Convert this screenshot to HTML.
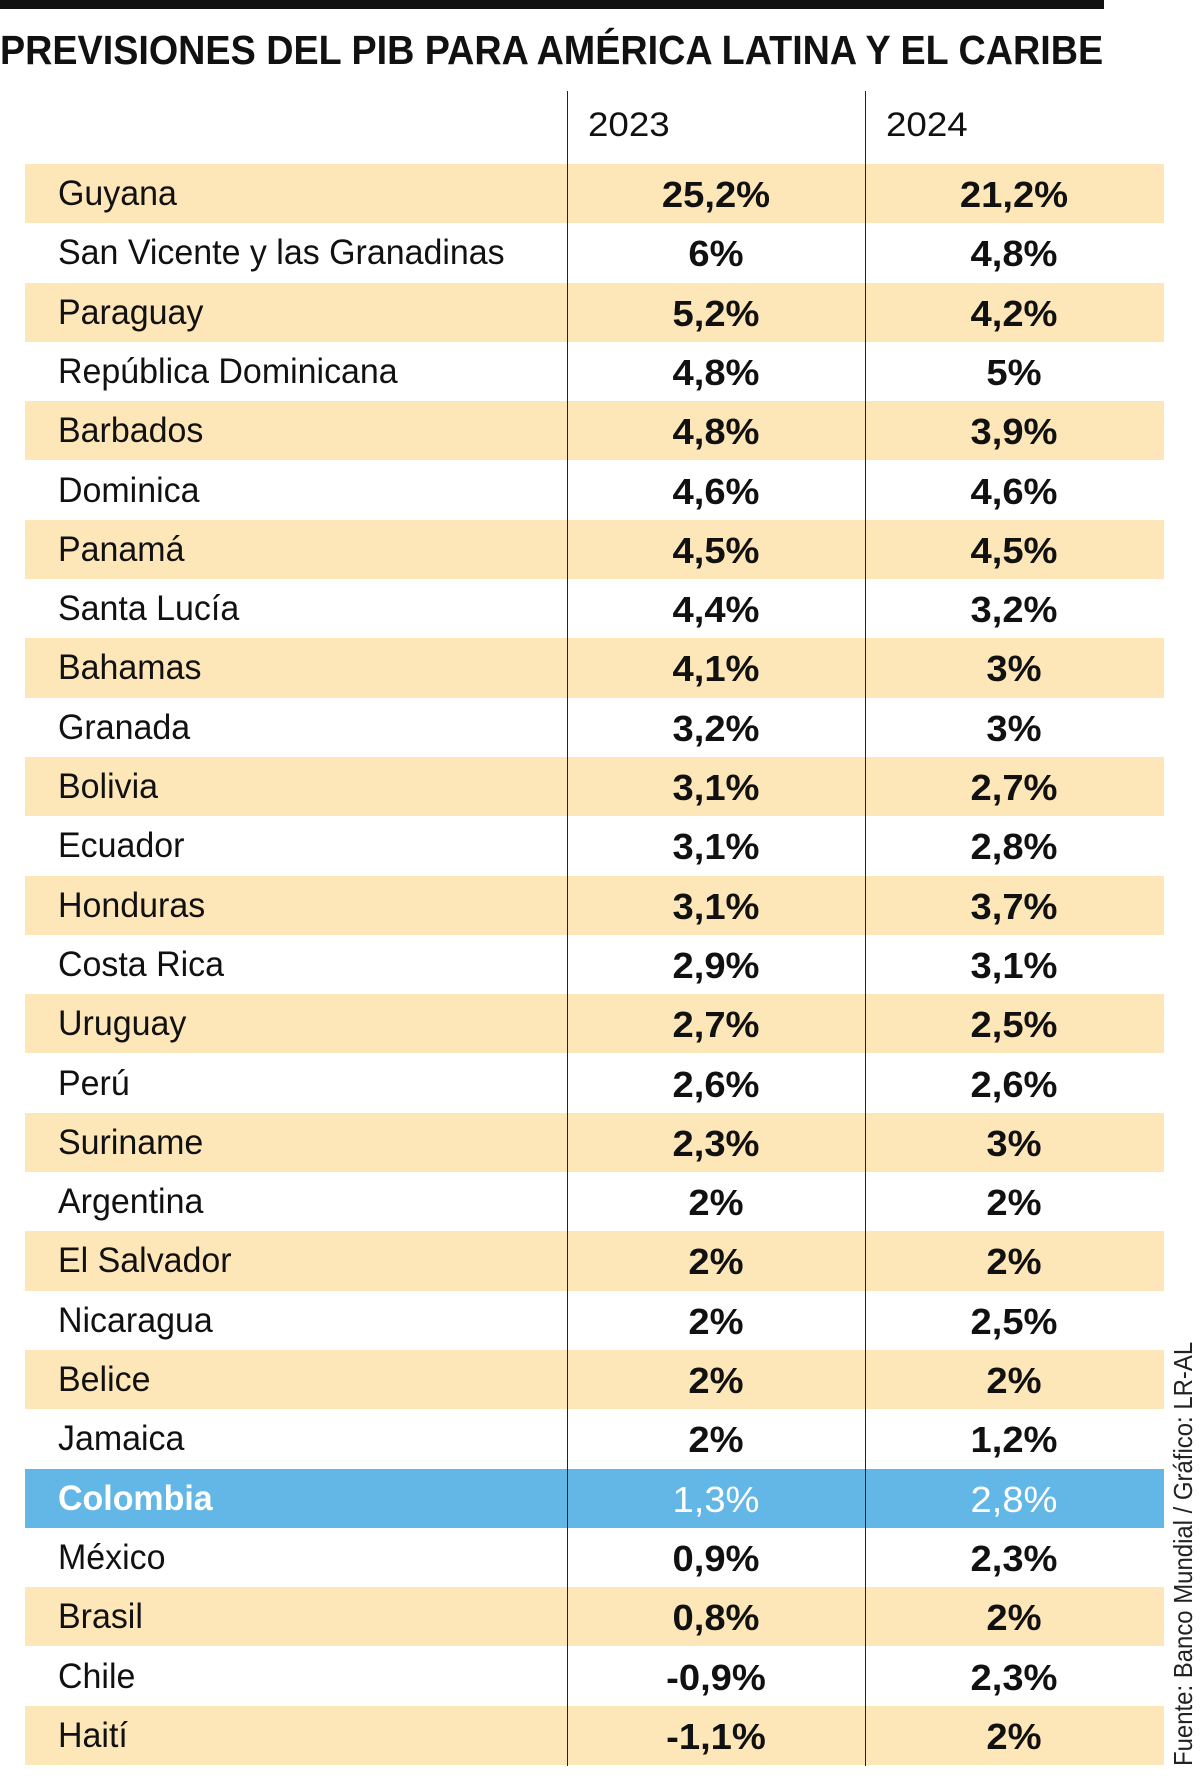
<!DOCTYPE html>
<html><head><meta charset="utf-8">
<style>
body{margin:0;width:1200px;height:1776px;background:#fff;position:relative;overflow:hidden;font-family:"Liberation Sans","DejaVu Sans",sans-serif;color:#111}
.bar{position:absolute;left:0;top:0;width:1104px;height:9px;background:#111}
.title{position:absolute;left:0;top:27px;font-weight:bold;font-size:41px;white-space:nowrap;transform-origin:0 0;transform:scaleX(0.92)}
.vl{position:absolute;top:91px;width:1px;height:1675px;background:#222}
.hd{position:absolute;top:106px;font-size:34px;transform-origin:0 0;transform:scaleX(1.08)}
.row{position:absolute;left:25px;width:1139px;height:59.3px}
.b{background:#fde6b8}
.c{background:#63b7e6}
.n{position:absolute;left:33px;top:10px;font-size:35px;white-space:nowrap;transform-origin:0 0;transform:scaleX(0.97)}
.v{position:absolute;top:10px;font-size:36px;font-weight:bold;width:200px;text-align:center;transform:scaleX(1.06)}
.v1{left:591px}.v2{left:889px}
.c .n,.c .v{color:#fff}
.src{position:absolute;left:1168px;top:1766px;font-size:26px;color:#222;white-space:nowrap;transform-origin:0 0;transform:rotate(-90deg) scaleX(0.92)}
</style></head><body>
<div class="bar"></div>
<div class="title">PREVISIONES DEL PIB PARA AMÉRICA LATINA Y EL CARIBE</div>
<div class="hd" style="left:588px">2023</div>
<div class="hd" style="left:886px">2024</div>
<div class="row b" style="top:164px"><span class="n">Guyana</span><span class="v v1">25,2%</span><span class="v v2">21,2%</span></div>
<div class="row" style="top:223.3px"><span class="n">San Vicente y las Granadinas</span><span class="v v1">6%</span><span class="v v2">4,8%</span></div>
<div class="row b" style="top:282.6px"><span class="n">Paraguay</span><span class="v v1">5,2%</span><span class="v v2">4,2%</span></div>
<div class="row" style="top:341.9px"><span class="n">República Dominicana</span><span class="v v1">4,8%</span><span class="v v2">5%</span></div>
<div class="row b" style="top:401.2px"><span class="n">Barbados</span><span class="v v1">4,8%</span><span class="v v2">3,9%</span></div>
<div class="row" style="top:460.5px"><span class="n">Dominica</span><span class="v v1">4,6%</span><span class="v v2">4,6%</span></div>
<div class="row b" style="top:519.8px"><span class="n">Panamá</span><span class="v v1">4,5%</span><span class="v v2">4,5%</span></div>
<div class="row" style="top:579.1px"><span class="n">Santa Lucía</span><span class="v v1">4,4%</span><span class="v v2">3,2%</span></div>
<div class="row b" style="top:638.4px"><span class="n">Bahamas</span><span class="v v1">4,1%</span><span class="v v2">3%</span></div>
<div class="row" style="top:697.7px"><span class="n">Granada</span><span class="v v1">3,2%</span><span class="v v2">3%</span></div>
<div class="row b" style="top:757px"><span class="n">Bolivia</span><span class="v v1">3,1%</span><span class="v v2">2,7%</span></div>
<div class="row" style="top:816.3px"><span class="n">Ecuador</span><span class="v v1">3,1%</span><span class="v v2">2,8%</span></div>
<div class="row b" style="top:875.6px"><span class="n">Honduras</span><span class="v v1">3,1%</span><span class="v v2">3,7%</span></div>
<div class="row" style="top:934.9px"><span class="n">Costa Rica</span><span class="v v1">2,9%</span><span class="v v2">3,1%</span></div>
<div class="row b" style="top:994.2px"><span class="n">Uruguay</span><span class="v v1">2,7%</span><span class="v v2">2,5%</span></div>
<div class="row" style="top:1053.5px"><span class="n">Perú</span><span class="v v1">2,6%</span><span class="v v2">2,6%</span></div>
<div class="row b" style="top:1112.8px"><span class="n">Suriname</span><span class="v v1">2,3%</span><span class="v v2">3%</span></div>
<div class="row" style="top:1172.1px"><span class="n">Argentina</span><span class="v v1">2%</span><span class="v v2">2%</span></div>
<div class="row b" style="top:1231.4px"><span class="n">El Salvador</span><span class="v v1">2%</span><span class="v v2">2%</span></div>
<div class="row" style="top:1290.7px"><span class="n">Nicaragua</span><span class="v v1">2%</span><span class="v v2">2,5%</span></div>
<div class="row b" style="top:1350px"><span class="n">Belice</span><span class="v v1">2%</span><span class="v v2">2%</span></div>
<div class="row" style="top:1409.3px"><span class="n">Jamaica</span><span class="v v1">2%</span><span class="v v2">1,2%</span></div>
<div class="row c" style="top:1468.6px"><span class="n" style="font-weight:bold">Colombia</span><span class="v v1" style="font-weight:normal">1,3%</span><span class="v v2" style="font-weight:normal">2,8%</span></div>
<div class="row" style="top:1527.9px"><span class="n">México</span><span class="v v1">0,9%</span><span class="v v2">2,3%</span></div>
<div class="row b" style="top:1587.2px"><span class="n">Brasil</span><span class="v v1">0,8%</span><span class="v v2">2%</span></div>
<div class="row" style="top:1646.5px"><span class="n">Chile</span><span class="v v1">-0,9%</span><span class="v v2">2,3%</span></div>
<div class="row b" style="top:1705.8px"><span class="n">Haití</span><span class="v v1">-1,1%</span><span class="v v2">2%</span></div>
<div class="vl" style="left:567px"></div>
<div class="vl" style="left:865px"></div>
<div class="src">Fuente: Banco Mundial / Gráfico: LR-AL</div>
</body></html>
